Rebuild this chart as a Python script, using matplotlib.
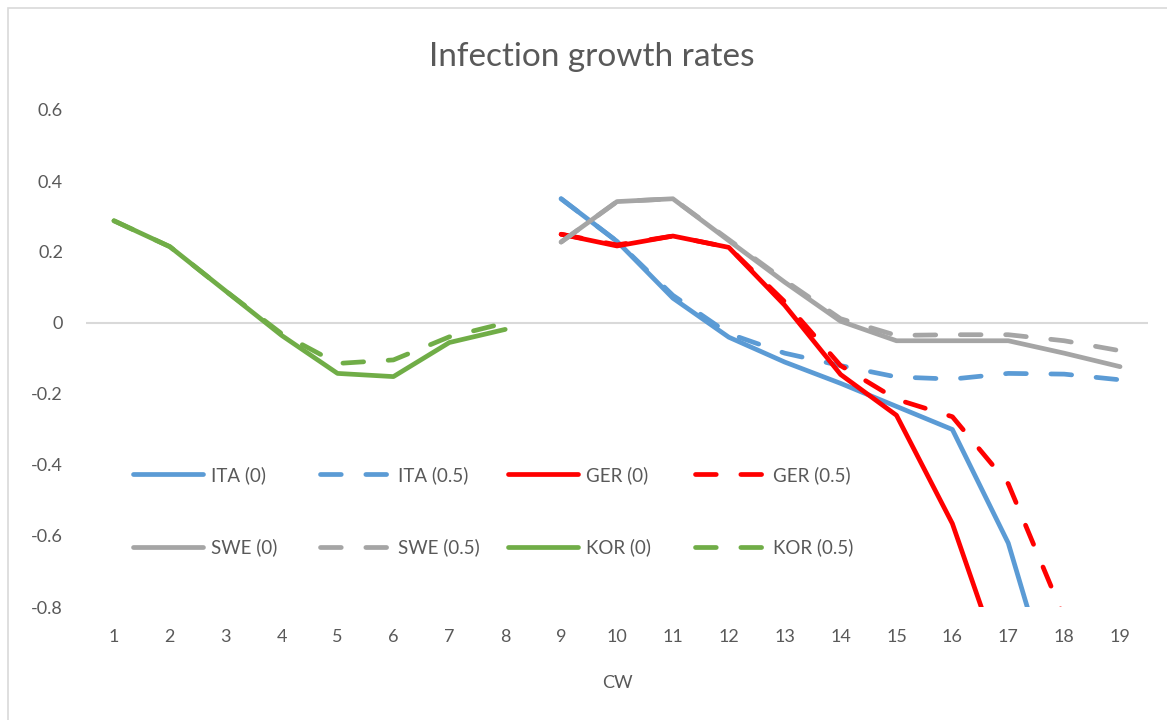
import numpy as np
import matplotlib
matplotlib.use("Agg")
import matplotlib.pyplot as plt
from matplotlib.patches import Rectangle

nan = np.nan
weeks = list(range(1, 20))
ita0 = [nan]*8 + [0.35, 0.23, 0.07, -0.04, -0.11, -0.17, -0.235, -0.30, -0.62, -1.15, nan]
ita05 = [nan]*8 + [0.35, 0.23, 0.078, -0.03, -0.085, -0.12, -0.152, -0.158, -0.142, -0.144, -0.16]
ger0 = [nan]*8 + [0.25, 0.217, 0.245, 0.213, 0.05, -0.145, -0.26, -0.565, -1.02, nan, nan]
ger05 = [nan]*8 + [0.25, 0.22, 0.245, 0.213, 0.06, -0.12, -0.215, -0.264, -0.453, -0.83, nan]
swe0 = [nan]*8 + [0.228, 0.342, 0.35, 0.232, 0.115, 0.005, -0.05, -0.05, -0.05, -0.085, -0.123]
swe05 = [nan]*8 + [0.228, 0.342, 0.35, 0.235, 0.12, 0.012, -0.035, -0.033, -0.033, -0.05, -0.078]
kor0 = [0.288, 0.215, 0.09, -0.035, -0.142, -0.151, -0.055, -0.018] + [nan]*11
kor05 = [0.288, 0.215, 0.09, -0.03, -0.114, -0.104, -0.039, 0.0] + [nan]*11

labels = ["ITA (0)", "ITA (0.5)", "GER (0)", "GER (0.5)",
          "SWE (0)", "SWE (0.5)", "KOR (0)", "KOR (0.5)"]
series = [ita0, ita05, ger0, ger05, swe0, swe05, kor0, kor05]
colors = ["#5B9BD5", "#5B9BD5", "#FF0000", "#FF0000",
          "#A5A5A5", "#A5A5A5", "#70AD47", "#70AD47"]
dashed = [False, True, False, True, False, True, False, True]
yticks = [-0.8, -0.6, -0.4, -0.2, 0, 0.2, 0.4, 0.6]
ytick_labels = ["-0.8", "-0.6", "-0.4", "-0.2", "0", "0.2", "0.4", "0.6"]

plt.rcParams['font.family'] = ['Lato', 'DejaVu Sans']
TXT = "#595959"
W, H = 1167, 720
fig = plt.figure(figsize=(W/100, H/100), dpi=100)
fig.patches.append(Rectangle((8/W, -0.1), 1.2, 1 - 8/H + 0.1, transform=fig.transFigure,
                             fill=False, edgecolor="#D9D9D9", linewidth=1.2))
ax = fig.add_axes([86/W, 1 - 607/H, (1148-86)/W, (607-110)/H])
ax.set_xlim(0.5, 19.5)
ax.set_ylim(-0.8, 0.6)
for s in ax.spines.values():
    s.set_visible(False)
ax.axhline(0, color="#D9D9D9", linewidth=1.5, zorder=1)

LW = 3.4
lines = []
for y, c, d, lab in zip(series, colors, dashed, labels):
    ln, = ax.plot(weeks, y, color=c, linewidth=LW, label=lab,
                  solid_capstyle='round', dash_capstyle='round', solid_joinstyle='round', zorder=3)
    if d:
        ln.set_dashes((4.4, 5.2))
    lines.append(ln)

ax.set_xticks(weeks)
ax.set_xticklabels([str(w) for w in weeks])
ax.set_yticks(yticks)
ax.set_yticklabels(ytick_labels)
ax.tick_params(length=0, labelsize=13, labelcolor=TXT)
ax.tick_params(axis='x', pad=16)
ax.tick_params(axis='y', pad=16.5)

fig.text(617/W, 1 - 683/H, "CW", ha='center', va='center', fontsize=13, color=TXT)
fig.text(592/W, 1 - 57/H, "Infection growth rates", ha='center', va='center', fontsize=24, color=TXT)

# legend: 4 columns x 2 rows, each column a legend
col_x = [133, 320, 508, 695]
for ci in range(4):
    hs = [lines[ci], lines[ci+4]]
    leg = ax.legend(handles=hs, loc='center left', bbox_to_anchor=(col_x[ci]/W, 1 - 511/H),
                    bbox_transform=fig.transFigure, frameon=False, fontsize=13.5,
                    handlelength=3.75, handletextpad=0.43, labelspacing=2.9,
                    borderpad=0, borderaxespad=0)
    for t in leg.get_texts():
        t.set_color(TXT)
    if ci < 3:
        ax.add_artist(leg)

fig.savefig("out.png", dpi=100)
